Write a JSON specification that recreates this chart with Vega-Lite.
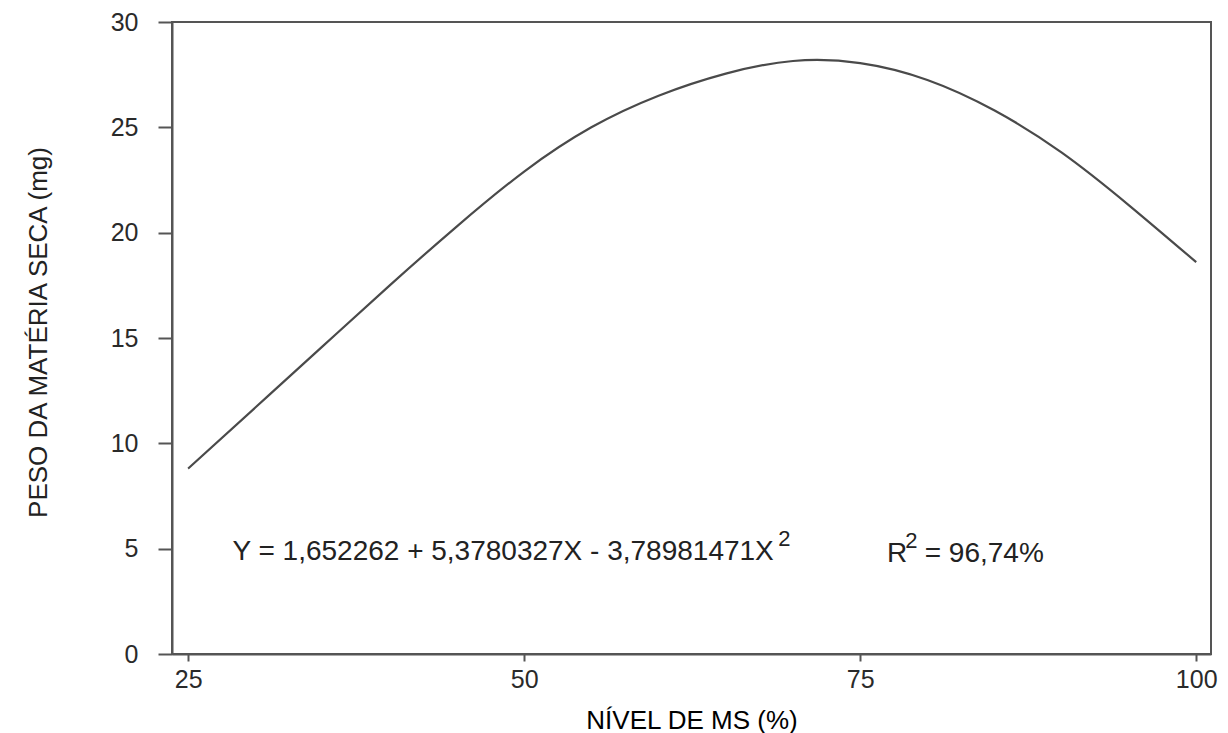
{
  "$schema": "https://vega.github.io/schema/vega-lite/v6.json",
  "width": 1039,
  "height": 632,
  "autosize": "none",
  "padding": {"left": 172, "top": 22, "right": 17, "bottom": 79},
  "background": "white",
  "config": {
    "view": {"stroke": "#555555", "strokeWidth": 2},
    "font": "Liberation Sans"
  },
  "datasets": {
    "curve": [
      {"x": 25, "y": 8.8},
      {"x": 30, "y": 11.7},
      {"x": 35, "y": 14.6},
      {"x": 40, "y": 17.5},
      {"x": 45, "y": 20.3},
      {"x": 50, "y": 22.9},
      {"x": 55, "y": 25.0},
      {"x": 60, "y": 26.5},
      {"x": 65, "y": 27.55},
      {"x": 70, "y": 28.15},
      {"x": 75, "y": 28.05},
      {"x": 80, "y": 27.25},
      {"x": 85, "y": 25.8},
      {"x": 90, "y": 23.8},
      {"x": 95, "y": 21.3},
      {"x": 100, "y": 18.6}
    ],
    "main": [
      {"x": 28.3, "y": 4.45, "t": "Y = 1,652262 + 5,3780327X - 3,78981471X"},
      {"x": 77.0, "y": 4.35, "t": "R"},
      {"x": 79.8, "y": 4.35, "t": "= 96,74%"}
    ],
    "sup": [
      {"x": 68.9, "y": 5.15, "t": "2"},
      {"x": 78.35, "y": 5.05, "t": "2"}
    ]
  },
  "encoding": {
    "x": {
      "field": "x",
      "type": "quantitative",
      "scale": {"domain": [23.8, 101.1], "nice": false, "zero": false},
      "axis": {
        "title": "NÍVEL DE MS (%)",
        "values": [25, 50, 75, 100],
        "grid": false,
        "domainColor": "#555555",
        "domainWidth": 2,
        "tickColor": "#555555",
        "tickWidth": 2,
        "tickSize": 7,
        "labelPadding": 6,
        "labelFontSize": 25,
        "labelColor": "#2a2a2a",
        "labelFont": "Liberation Sans",
        "titleFont": "Liberation Sans",
        "titleFontSize": 26,
        "titleFontWeight": "normal",
        "titleColor": "#000000",
        "titleBaseline": "middle",
        "titleY": 66
      }
    },
    "y": {
      "field": "y",
      "type": "quantitative",
      "scale": {"domain": [0, 30], "nice": false},
      "axis": {
        "title": "PESO DA MATÉRIA SECA (mg)",
        "values": [0, 5, 10, 15, 20, 25, 30],
        "grid": false,
        "domainColor": "#555555",
        "domainWidth": 2,
        "tickColor": "#555555",
        "tickWidth": 2,
        "tickSize": 14,
        "labelPadding": 20,
        "labelFontSize": 25,
        "labelColor": "#2a2a2a",
        "labelFont": "Liberation Sans",
        "titleFont": "Liberation Sans",
        "titleFontSize": 26,
        "titleFontWeight": "normal",
        "titleColor": "#222222",
        "titleBaseline": "middle",
        "titleX": -134,
        "titleY": 310
      }
    }
  },
  "layer": [
    {
      "data": {"name": "curve"},
      "mark": {"type": "line", "interpolate": "natural", "color": "#4a4a4a", "strokeWidth": 2.2}
    },
    {
      "data": {"name": "main"},
      "mark": {"type": "text", "align": "left", "baseline": "alphabetic", "fontSize": 28, "color": "#222222", "font": "Liberation Sans"},
      "encoding": {"text": {"field": "t"}}
    },
    {
      "data": {"name": "sup"},
      "mark": {"type": "text", "align": "left", "baseline": "alphabetic", "fontSize": 22, "color": "#222222", "font": "Liberation Sans"},
      "encoding": {"text": {"field": "t"}}
    }
  ]
}
